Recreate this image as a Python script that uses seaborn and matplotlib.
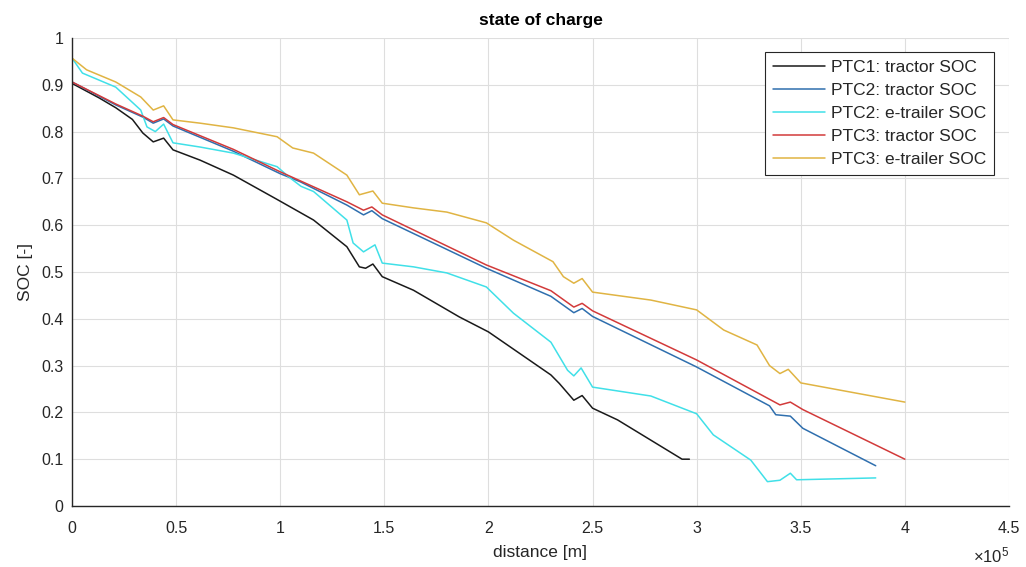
import numpy as np
import pandas as pd
import matplotlib
matplotlib.use('Agg')
import matplotlib.pyplot as plt
import seaborn as sns
from matplotlib.ticker import FuncFormatter, MultipleLocator

# distances are in units of 1e5 m (as on the axis), SOC in [-]
ptc1_trac_x = [0, 0.13, 0.21, 0.29, 0.34, 0.39, 0.44, 0.485, 0.615, 0.775, 0.985, 1.16, 1.32, 1.38,
               1.41, 1.445, 1.49, 1.64, 1.86, 2.0, 2.30, 2.34, 2.41, 2.45, 2.50, 2.62, 2.93, 2.965]
ptc1_trac_y = [0.903, 0.872, 0.851, 0.826, 0.797, 0.778, 0.786, 0.761, 0.739, 0.707, 0.655, 0.611, 0.554, 0.511,
               0.508, 0.517, 0.49, 0.461, 0.404, 0.372, 0.28, 0.262, 0.226, 0.236, 0.209, 0.184, 0.10, 0.10]

ptc2_trac_x = [0, 0.21, 0.34, 0.39, 0.44, 0.485, 0.775, 1.0, 1.095, 1.32, 1.40, 1.44, 1.49, 1.99,
               2.30, 2.41, 2.45, 2.50, 3.0, 3.35, 3.38, 3.45, 3.51, 3.86]
ptc2_trac_y = [0.906, 0.857, 0.831, 0.818, 0.827, 0.812, 0.758, 0.71, 0.693, 0.643, 0.622, 0.631, 0.614, 0.508,
               0.448, 0.413, 0.422, 0.405, 0.297, 0.214, 0.195, 0.192, 0.166, 0.086]

ptc2_trail_x = [0, 0.05, 0.21, 0.33, 0.36, 0.40, 0.44, 0.485, 0.615, 0.775, 0.985, 1.05, 1.10, 1.16,
                1.32, 1.35, 1.40, 1.455, 1.49, 1.64, 1.80, 1.99, 2.12, 2.30, 2.38, 2.41, 2.445, 2.50,
                2.78, 3.0, 3.08, 3.26, 3.34, 3.40, 3.45, 3.48, 3.86]
ptc2_trail_y = [0.957, 0.925, 0.895, 0.846, 0.81, 0.80, 0.816, 0.776, 0.767, 0.754, 0.725, 0.70, 0.683, 0.672,
                0.611, 0.562, 0.543, 0.558, 0.519, 0.511, 0.498, 0.468, 0.412, 0.35, 0.29, 0.278, 0.295, 0.254,
                0.235, 0.197, 0.152, 0.098, 0.052, 0.055, 0.07, 0.056, 0.06]

ptc3_trac_x = [0, 0.21, 0.34, 0.39, 0.44, 0.485, 0.775, 1.0, 1.32, 1.40, 1.44, 1.49, 1.99, 2.30,
               2.41, 2.45, 2.50, 3.0, 3.40, 3.45, 3.51, 4.0]
ptc3_trac_y = [0.906, 0.859, 0.833, 0.821, 0.83, 0.815, 0.762, 0.714, 0.65, 0.632, 0.639, 0.622, 0.515, 0.46,
               0.425, 0.433, 0.417, 0.312, 0.216, 0.222, 0.206, 0.10]

ptc3_trail_x = [0, 0.07, 0.21, 0.33, 0.39, 0.44, 0.485, 0.615, 0.775, 0.985, 1.06, 1.16, 1.32, 1.38,
                1.445, 1.49, 1.64, 1.80, 1.99, 2.12, 2.31, 2.36, 2.41, 2.45, 2.50, 2.78, 3.0, 3.13,
                3.29, 3.35, 3.40, 3.44, 3.50, 4.0]
ptc3_trail_y = [0.957, 0.932, 0.906, 0.874, 0.846, 0.855, 0.825, 0.818, 0.808, 0.789, 0.765, 0.754, 0.707, 0.665,
                0.673, 0.647, 0.637, 0.628, 0.605, 0.568, 0.522, 0.49, 0.476, 0.486, 0.457, 0.44, 0.419, 0.376,
                0.344, 0.30, 0.283, 0.292, 0.263, 0.222]

labels = ['PTC1: tractor SOC', 'PTC2: tractor SOC', 'PTC2: e-trailer SOC',
          'PTC3: tractor SOC', 'PTC3: e-trailer SOC']
colors = ['#1a1a1a', '#2f6fae', '#40e0e8', '#d23a3a', '#e0b443']

# build long table
series = [(ptc1_trac_x, ptc1_trac_y), (ptc2_trac_x, ptc2_trac_y), (ptc2_trail_x, ptc2_trail_y),
          (ptc3_trac_x, ptc3_trac_y), (ptc3_trail_x, ptc3_trail_y)]
frames = []
for lab, (xs, ys) in zip(labels, series):
    frames.append(pd.DataFrame({'distance': np.array(xs) * 1e5, 'SOC': ys, 'series': lab}))
df = pd.concat(frames, ignore_index=True)

sns.set_theme(style='white')
plt.rcParams['font.family'] = ['Liberation Sans', 'DejaVu Sans']
plt.rcParams['mathtext.fontset'] = 'custom'
plt.rcParams['mathtext.rm'] = 'Liberation Sans'

fig, ax = plt.subplots(figsize=(10.26, 5.67), dpi=100)
fig.subplots_adjust(left=0.0702, right=0.9834, bottom=0.1076, top=0.933)

sns.lineplot(data=df, x='distance', y='SOC', hue='series', hue_order=labels,
             palette=colors, sort=False, estimator=None, linewidth=1.1, ax=ax)

ax.set_xlim(0, 4.5e5)
ax.set_ylim(0, 1)
ax.xaxis.set_major_locator(MultipleLocator(0.5e5))
ax.yaxis.set_major_locator(MultipleLocator(0.1))
ax.xaxis.set_major_formatter(FuncFormatter(lambda v, p: f'{v / 1e5:g}'))
ax.yaxis.set_major_formatter(FuncFormatter(lambda v, p: f'{v:.10g}'))

ax.grid(True, color='#dedede', linewidth=0.8)
for s in ['top', 'right']:
    ax.spines[s].set_visible(False)
for s in ['left', 'bottom']:
    ax.spines[s].set_color('#262626')
    ax.spines[s].set_linewidth(1.0)
ax.tick_params(direction='in', length=6, width=0.9, color='#262626',
               labelsize=11.5, labelcolor='#262626', pad=6)
ax.tick_params(axis='x', pad=11)

ax.set_xlabel('distance [m]', fontsize=12.5, color='#262626', labelpad=6)
ax.set_ylabel('SOC [-]', fontsize=12.5, color='#262626', labelpad=6)
ax.set_title('state of charge', fontsize=12.5, fontweight='bold', color='black', pad=9)
ax.text(1.0, -0.105, r'$\times\mathregular{10^{5}}$', transform=ax.transAxes,
        ha='right', va='center', fontsize=12, color='#262626')

leg = ax.legend(loc='upper right', bbox_to_anchor=(0.984, 0.97), fontsize=12.5, frameon=True,
                fancybox=False, framealpha=1, edgecolor='#262626', handlelength=3.0,
                handletextpad=0.35, labelspacing=0.45, borderpad=0.45, borderaxespad=0)
leg.get_frame().set_linewidth(0.8)
for line in leg.get_lines():
    line.set_linewidth(1.1)

fig.savefig('out.png', dpi=100)
